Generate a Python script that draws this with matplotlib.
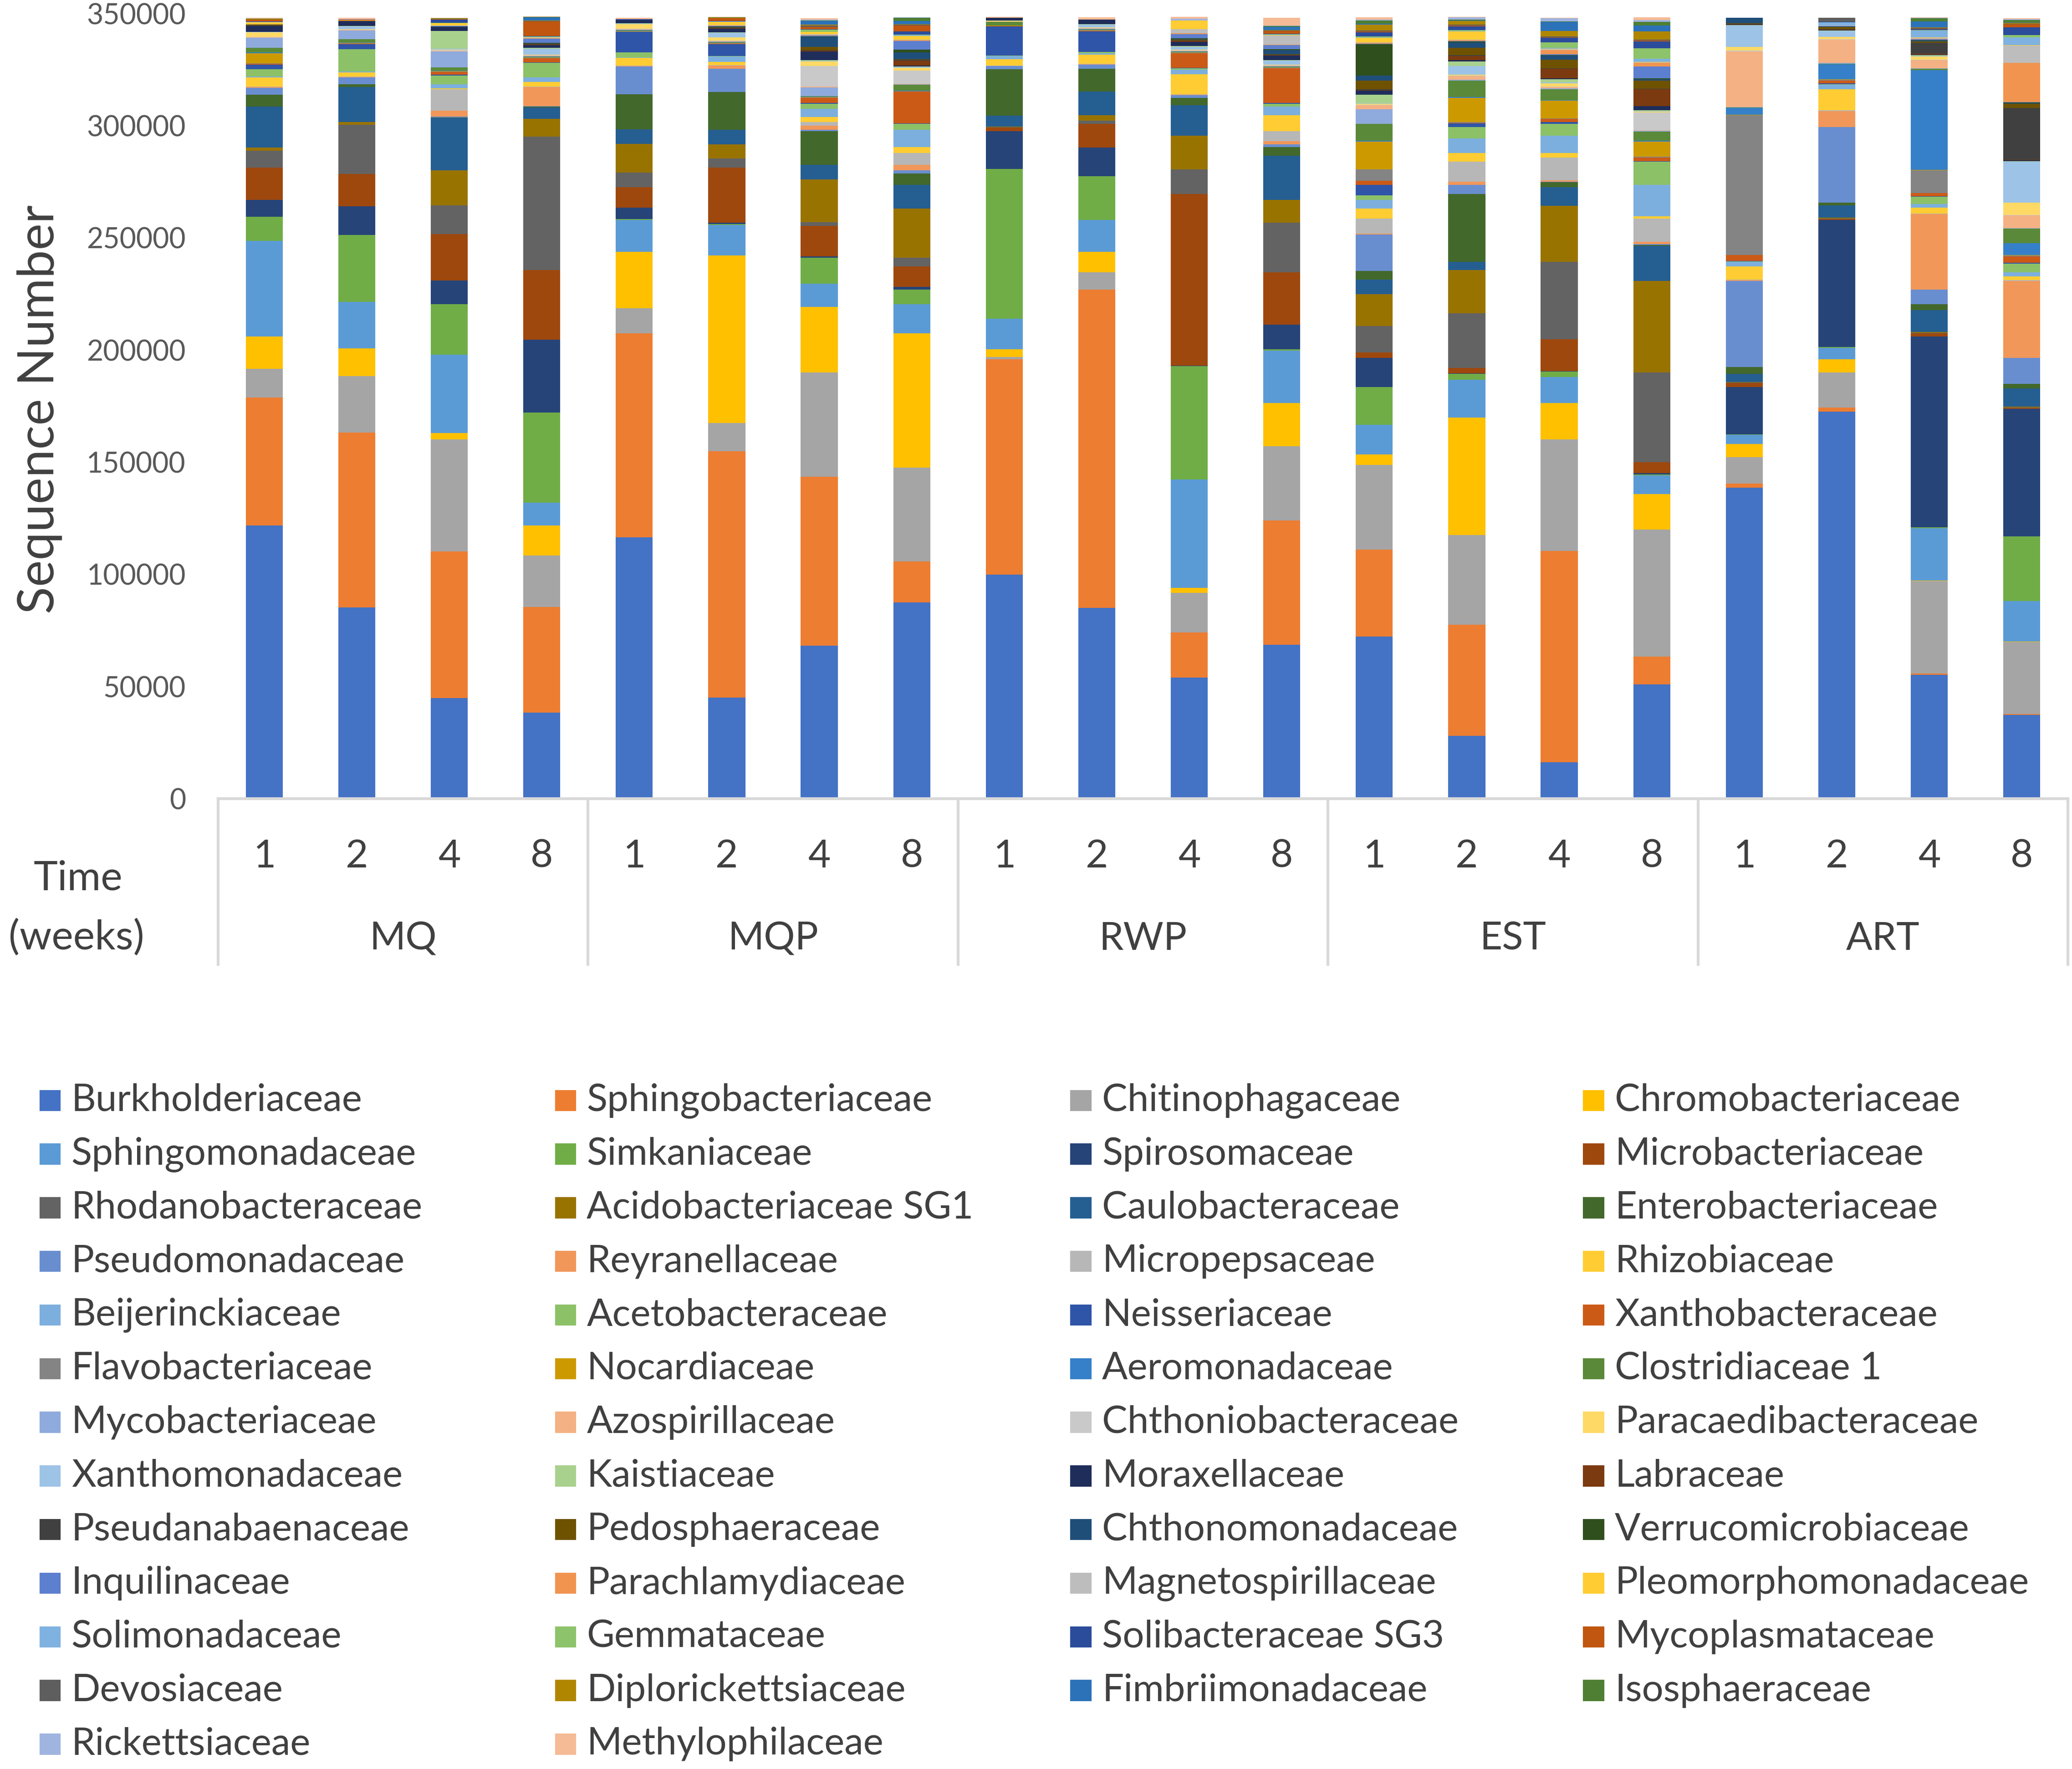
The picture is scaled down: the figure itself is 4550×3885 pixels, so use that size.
import numpy as np
import matplotlib
matplotlib.use("Agg")
import matplotlib.pyplot as plt
import matplotlib.transforms as mtransforms
from matplotlib.patches import Rectangle

plt.rcParams['font.family'] = ['Lato', 'DejaVu Sans']

groups = ['MQ', 'MQP', 'RWP', 'EST', 'ART']
weeks = ['1', '2', '4', '8']

families = [
    'Burkholderiaceae', 'Sphingobacteriaceae', 'Chitinophagaceae', 'Chromobacteriaceae',
    'Sphingomonadaceae', 'Simkaniaceae', 'Spirosomaceae', 'Microbacteriaceae',
    'Rhodanobacteraceae', 'Acidobacteriaceae SG1', 'Caulobacteraceae', 'Enterobacteriaceae',
    'Pseudomonadaceae', 'Reyranellaceae', 'Micropepsaceae', 'Rhizobiaceae',
    'Beijerinckiaceae', 'Acetobacteraceae', 'Neisseriaceae', 'Xanthobacteraceae',
    'Flavobacteriaceae', 'Nocardiaceae', 'Aeromonadaceae', 'Clostridiaceae 1',
    'Mycobacteriaceae', 'Azospirillaceae', 'Chthoniobacteraceae', 'Paracaedibacteraceae',
    'Xanthomonadaceae', 'Kaistiaceae', 'Moraxellaceae', 'Labraceae',
    'Pseudanabaenaceae', 'Pedosphaeraceae', 'Chthonomonadaceae', 'Verrucomicrobiaceae',
    'Inquilinaceae', 'Parachlamydiaceae', 'Magnetospirillaceae', 'Pleomorphomonadaceae',
    'Solimonadaceae', 'Gemmataceae', 'Solibacteraceae SG3', 'Mycoplasmataceae',
    'Devosiaceae', 'Diplorickettsiaceae', 'Fimbriimonadaceae', 'Isosphaeraceae',
    'Rickettsiaceae', 'Methylophilaceae',
]

colors = [
    '#4472C4', '#ED7D31', '#A5A5A5', '#FFC000', '#5B9BD5', '#70AD47',
    '#264478', '#9E480E', '#636363', '#997300', '#255E91', '#43682B',
    '#698ED0', '#F1975A', '#B7B7B7', '#FFCD33', '#7CAFDD', '#8CC168',
    '#2F55A8', '#CC5A17', '#848484', '#CC9A00', '#3580C8', '#5A8A39',
    '#8FAADC', '#F4B183', '#C9C9C9', '#FFD966', '#9DC3E6', '#A9D18E',
    '#1F2D5A', '#7B3A10', '#404040', '#6E5200', '#1F4E79', '#2F4F1C',
    '#5D7FCF', '#F09450', '#BDBDBD', '#FFCC33', '#7FB2E0', '#8DC36A',
    '#2B4C9B', '#C0560F', '#5E5E5E', '#B08600', '#2C72B8', '#4E7F33',
    '#A0B4E0', '#F5BB96',
]

# thousands of sequences per family; columns = MQ, MQP, RWP, EST, ART x weeks 1, 2, 4, 8
counts = [
    [121.7, 85.3, 44.8, 38.4, 116.4, 45.1, 68.1, 87.5, 99.9, 85.1, 54.0, 68.6, 72.2, 28.0, 16.2, 51.0, 138.7, 172.5, 55.2, 37.4],
    [57.2, 77.8, 65.3, 47.0, 91.0, 109.7, 75.3, 18.3, 96.0, 141.8, 20.0, 55.4, 38.8, 49.5, 94.3, 12.3, 1.8, 1.9, 0.5, 0.3],
    [12.7, 25.3, 50.1, 22.9, 11.1, 12.6, 46.6, 41.8, 1.0, 7.7, 17.7, 33.0, 37.8, 40.1, 49.7, 56.6, 11.8, 15.6, 41.3, 32.1],
    [14.5, 12.3, 2.7, 13.4, 25.2, 74.8, 29.1, 59.8, 3.4, 9.1, 2.3, 19.4, 4.7, 52.3, 16.2, 15.9, 5.9, 5.8, 0.3, 0.3],
    [42.5, 20.7, 34.9, 10.3, 14.3, 13.6, 10.4, 13.0, 13.6, 14.3, 48.3, 23.4, 13.1, 16.8, 11.6, 8.3, 3.9, 5.2, 23.3, 18.0],
    [10.7, 29.8, 22.7, 40.2, 0.3, 0.3, 11.6, 6.5, 66.9, 19.4, 50.5, 0.5, 16.9, 2.6, 2.3, 0.5, 0.3, 0.3, 0.3, 28.8],
    [7.7, 12.9, 10.4, 32.3, 5.1, 0.7, 0.6, 1.3, 16.8, 12.9, 0.3, 11.0, 12.9, 0.3, 0.3, 0.5, 21.1, 56.7, 85.2, 56.9],
    [14.3, 14.3, 20.7, 31.1, 9.1, 24.6, 13.7, 9.0, 1.6, 10.4, 76.5, 23.3, 2.6, 2.3, 14.2, 4.9, 1.7, 0.3, 1.3, 0.3],
    [7.5, 22.0, 12.9, 59.6, 6.5, 3.9, 1.6, 3.9, 0.2, 1.6, 11.0, 22.1, 11.7, 24.4, 34.4, 40.0, 0.3, 0.3, 0.3, 0.3],
    [1.5, 1.3, 15.6, 7.8, 12.9, 6.4, 19.1, 22.0, 0.2, 2.3, 14.9, 10.3, 14.2, 19.4, 25.0, 40.8, 0.3, 0.3, 0.3, 0.3],
    [18.2, 15.5, 23.3, 5.2, 6.5, 6.5, 6.5, 10.4, 4.9, 10.6, 13.6, 19.5, 6.5, 3.5, 8.3, 15.5, 3.5, 5.5, 9.8, 8.1],
    [5.2, 1.3, 0.3, 0.3, 15.6, 16.8, 15.0, 5.2, 20.7, 10.1, 3.2, 3.9, 3.9, 30.4, 2.3, 0.5, 3.2, 1.3, 2.6, 2.0],
    [3.2, 2.9, 0.3, 0.3, 12.3, 10.4, 0.5, 1.3, 1.3, 1.9, 1.3, 1.3, 16.2, 3.9, 0.3, 0.5, 38.3, 33.7, 6.5, 11.6],
    [0.3, 0.3, 2.6, 8.4, 0.2, 1.3, 1.9, 2.6, 0.1, 0.2, 0.2, 1.3, 0.4, 1.6, 0.6, 0.9, 0.3, 7.1, 33.7, 34.4],
    [0.2, 0.3, 9.7, 0.3, 0.2, 0.2, 1.6, 5.2, 0.1, 0.1, 0.1, 4.5, 6.7, 8.8, 10.1, 10.4, 0.3, 0.3, 0.3, 0.3],
    [4.2, 1.8, 0.3, 2.0, 3.5, 1.6, 2.3, 2.6, 3.0, 4.1, 9.1, 7.1, 4.5, 3.9, 2.0, 0.9, 5.8, 9.4, 2.5, 1.6],
    [0.3, 0.3, 1.9, 1.9, 0.2, 2.3, 3.6, 7.8, 1.3, 0.7, 1.9, 3.9, 3.9, 6.4, 7.7, 14.0, 2.0, 2.0, 1.7, 1.9],
    [3.2, 10.0, 3.9, 6.5, 2.3, 0.3, 2.3, 2.6, 0.3, 0.6, 0.6, 1.3, 2.0, 5.2, 5.2, 10.4, 0.3, 0.3, 3.2, 3.9],
    [2.0, 2.3, 0.3, 0.3, 9.0, 5.2, 0.3, 0.3, 13.0, 9.1, 0.3, 0.3, 4.5, 1.6, 1.0, 0.3, 0.3, 0.3, 0.3, 0.3],
    [0.4, 0.2, 1.3, 1.9, 0.2, 0.2, 2.3, 14.2, 0.1, 0.2, 6.5, 15.5, 1.9, 0.3, 1.3, 1.6, 2.6, 1.3, 1.3, 3.0],
    [0.3, 0.2, 0.2, 0.2, 0.2, 0.2, 0.2, 0.1, 0.1, 0.2, 0.2, 0.2, 5.2, 0.3, 0.3, 0.3, 62.2, 0.3, 10.1, 0.3],
    [4.5, 0.2, 0.2, 0.2, 0.2, 0.2, 0.2, 0.1, 0.1, 0.2, 0.2, 0.2, 12.3, 10.8, 7.8, 6.8, 0.3, 0.3, 0.3, 0.3],
    [0.3, 0.2, 0.2, 0.2, 0.2, 0.2, 0.2, 0.1, 0.1, 0.2, 0.2, 0.2, 0.3, 0.3, 0.3, 0.3, 2.9, 6.6, 44.4, 5.2],
    [2.0, 1.3, 1.3, 0.2, 0.2, 0.2, 0.2, 2.6, 1.5, 0.2, 0.2, 0.2, 7.5, 7.4, 4.8, 4.2, 0.3, 0.3, 0.6, 6.5],
    [4.5, 3.9, 7.2, 0.2, 0.2, 0.2, 3.9, 0.3, 0.1, 0.2, 0.2, 0.2, 6.5, 0.4, 0.5, 0.3, 0.3, 0.3, 0.3, 0.3],
    [0.2, 0.2, 0.2, 0.2, 0.2, 0.2, 0.3, 0.2, 0.1, 0.2, 0.2, 0.2, 1.9, 1.6, 0.5, 0.3, 24.7, 10.4, 3.6, 5.5],
    [0.2, 0.2, 0.3, 0.2, 0.2, 0.2, 9.1, 5.8, 0.1, 0.2, 0.2, 0.2, 0.3, 0.3, 0.3, 7.9, 0.3, 0.3, 0.3, 0.3],
    [2.0, 0.2, 0.3, 0.2, 2.0, 1.5, 2.1, 1.3, 0.1, 0.2, 0.2, 0.2, 0.3, 0.3, 1.3, 0.3, 1.6, 1.0, 1.3, 5.5],
    [0.2, 1.3, 0.3, 2.6, 0.2, 1.9, 0.3, 0.3, 0.1, 1.3, 1.3, 1.9, 0.3, 3.9, 0.5, 0.3, 9.7, 2.6, 0.3, 18.2],
    [0.2, 0.2, 8.0, 0.3, 0.2, 0.2, 0.3, 0.3, 0.1, 0.2, 0.3, 0.2, 3.7, 2.1, 1.3, 0.3, 0.2, 0.2, 0.3, 0.3],
    [2.5, 2.1, 1.6, 1.3, 1.3, 1.7, 3.9, 0.4, 1.3, 1.9, 1.9, 1.9, 1.9, 0.5, 0.5, 1.9, 0.2, 0.2, 0.3, 0.3],
    [0.1, 0.0, 0.1, 0.2, 0.0, 0.2, 0.3, 2.3, 0.0, 0.0, 0.3, 0.2, 0.3, 1.9, 4.2, 7.5, 0.2, 0.2, 0.3, 0.3],
    [0.2, 0.0, 0.1, 0.2, 0.0, 0.2, 0.3, 0.3, 0.0, 0.0, 0.3, 0.2, 0.3, 0.3, 0.2, 0.3, 0.2, 0.2, 5.0, 23.0],
    [0.1, 0.0, 0.1, 0.2, 0.0, 0.2, 1.3, 0.3, 0.0, 0.0, 0.3, 0.2, 3.9, 3.2, 4.0, 3.6, 0.2, 1.1, 0.6, 1.9],
    [0.1, 0.0, 0.1, 0.2, 0.0, 0.2, 4.5, 3.0, 0.0, 0.0, 0.3, 1.9, 2.3, 2.6, 1.7, 0.5, 2.3, 0.1, 0.3, 0.3],
    [0.1, 0.0, 0.1, 0.2, 0.0, 0.2, 0.3, 1.2, 0.0, 0.0, 0.3, 0.3, 13.9, 0.3, 0.3, 0.5, 0.0, 0.1, 0.3, 0.3],
    [0.1, 0.0, 0.1, 1.9, 0.0, 0.2, 0.3, 3.9, 0.0, 0.0, 1.9, 1.9, 0.3, 0.3, 0.3, 5.2, 0.0, 0.1, 0.3, 0.3],
    [0.1, 0.0, 0.1, 0.2, 0.0, 0.2, 0.3, 0.3, 0.0, 0.0, 0.3, 0.3, 0.3, 0.3, 1.9, 1.6, 0.0, 0.1, 0.3, 17.3],
    [0.1, 0.0, 0.1, 0.2, 0.0, 0.2, 0.3, 0.2, 0.0, 0.0, 1.9, 3.9, 0.3, 0.3, 0.3, 0.3, 0.0, 0.1, 0.3, 7.8],
    [0.8, 0.3, 1.0, 0.2, 0.0, 1.5, 1.0, 1.7, 0.0, 0.0, 3.9, 0.2, 1.9, 3.6, 0.3, 0.3, 0.0, 0.1, 0.3, 0.3],
    [0.1, 0.0, 0.1, 0.2, 0.0, 0.1, 0.2, 0.3, 0.0, 0.0, 0.0, 0.2, 0.3, 0.3, 0.3, 1.3, 0.0, 1.3, 3.0, 3.3],
    [0.1, 0.0, 0.1, 0.2, 0.0, 0.1, 1.0, 0.3, 0.0, 0.0, 0.0, 0.2, 0.3, 0.3, 2.6, 4.6, 0.0, 0.1, 0.3, 1.0],
    [0.1, 0.0, 1.5, 0.2, 0.5, 0.1, 0.2, 1.5, 0.0, 0.0, 0.0, 0.2, 1.9, 1.7, 1.9, 3.2, 0.0, 0.1, 0.3, 3.6],
    [0.8, 0.3, 0.1, 6.5, 0.0, 1.2, 1.0, 2.6, 0.0, 0.0, 0.0, 1.3, 0.4, 0.4, 0.3, 0.4, 0.0, 0.1, 0.3, 1.3],
    [0.1, 0.0, 0.1, 0.2, 0.0, 0.1, 0.5, 0.3, 0.0, 0.0, 0.0, 0.2, 0.4, 0.4, 0.3, 0.4, 0.0, 1.7, 0.3, 0.3],
    [0.1, 0.0, 0.1, 0.2, 0.0, 0.1, 0.5, 0.3, 0.0, 0.0, 0.0, 0.2, 2.6, 1.5, 2.6, 3.6, 0.0, 0.0, 0.3, 0.3],
    [0.1, 0.0, 0.1, 1.3, 0.0, 0.1, 1.5, 1.3, 0.0, 0.0, 0.0, 1.5, 0.5, 0.3, 3.9, 2.6, 0.0, 0.0, 2.6, 0.3],
    [0.1, 0.0, 0.1, 0.2, 0.0, 0.1, 0.2, 1.5, 0.0, 0.0, 0.0, 0.3, 1.3, 0.3, 0.3, 1.6, 0.0, 0.0, 1.3, 1.0],
    [0.1, 0.3, 0.1, 0.1, 0.0, 0.1, 0.5, 0.1, 0.0, 0.0, 0.7, 0.3, 0.4, 1.0, 1.3, 0.8, 0.0, 0.0, 0.2, 0.3],
    [0.3, 0.5, 0.1, 0.1, 0.5, 0.1, 0.5, 0.1, 0.3, 1.0, 0.8, 3.4, 1.0, 0.3, 0.3, 1.3, 0.0, 0.0, 0.3, 0.5],
]

W, H = 1568.0, 1339.0   # reference layout measured on a reduced copy

fig = plt.figure(figsize=(4550 / 300, 3885 / 300), dpi=300)
ax = fig.add_axes([165 / W, 1 - 604.5 / H, 1400 / W, 594.3 / H])

x = np.arange(len(groups) * len(weeks))
bottom = np.zeros(len(x))
for name, col, row in zip(families, colors, counts):
    vals = np.array(row) * 1000
    ax.bar(x, vals, 0.4, bottom=bottom, color=col, linewidth=0, label=name)
    bottom += vals

ax.set_xlim(-0.5, len(x) - 0.5)
ax.set_ylim(0, 350000)
ax.set_yticks(np.arange(0, 350001, 50000))
ax.set_xticks([])
ax.tick_params(axis='y', length=0, pad=17, labelsize=15, labelcolor='#595959')
for s in ax.spines.values():
    s.set_visible(False)
ax.axhline(0, color='#D9D9D9', lw=1.5, clip_on=False)

# two level category axis
trans = mtransforms.blended_transform_factory(ax.transData, ax.transAxes)
for b in np.arange(-0.5, len(x), 4):
    ax.plot([b, b], [0, -0.211], transform=trans, color='#D9D9D9', lw=1.5, clip_on=False)
for i in x:
    ax.text(i, -0.0735, weeks[i % 4], transform=trans, ha='center', va='center',
            fontsize=20.5, color='#404040')
for g, name in enumerate(groups):
    ax.text(4 * g + 1.5, -0.1785, name, transform=trans, ha='center', va='center',
            fontsize=20.5, color='#404040')

fig.text(59 / W, 1 - 665 / H, 'Time', ha='center', va='center', fontsize=21.5, color='#404040')
fig.text(58 / W, 1 - 710 / H, '(weeks)', ha='center', va='center', fontsize=21.5, color='#404040')
fig.text(30 / W, 1 - 310 / H, 'Sequence Number', rotation=90, ha='center', va='center',
         fontsize=26.5, color='#404040')

# legend, 4 columns filled row by row
col_x = [30, 420, 810, 1198]
for k, (name, col) in enumerate(zip(families, colors)):
    r, c = divmod(k, 4)
    yc = 833 + 40.6 * r
    fig.patches.append(Rectangle((col_x[c] / W, 1 - (yc + 8) / H), 16 / W, 16 / H,
                                 transform=fig.transFigure, facecolor=col, edgecolor='none'))
    fig.text((col_x[c] + 24) / W, 1 - yc / H, name, ha='left', va='center',
             fontsize=20, color='#404040')

fig.savefig('out.png', dpi=300)
